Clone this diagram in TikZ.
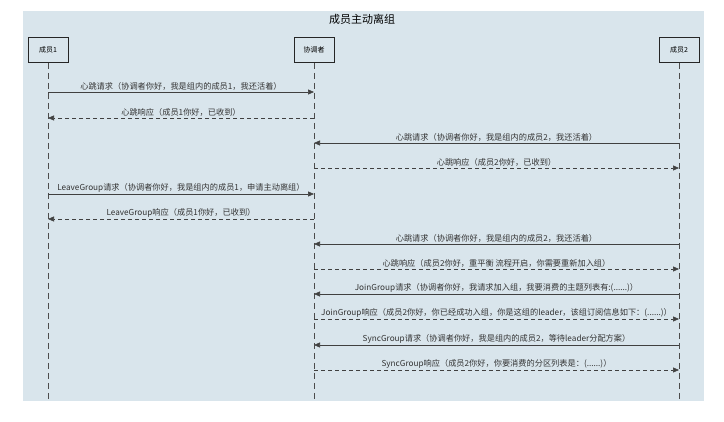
\documentclass[tikz,border=0pt]{standalone}
\usepackage{fontspec}
\setmainfont{Noto Sans CJK SC}
\usetikzlibrary{arrows.meta}
\begin{document}
\begin{tikzpicture}[x=1pt,y=-1pt,
  actor/.style={draw=black!85,line width=1pt,fill=none,minimum width=40pt,minimum height=25pt,font=\fontsize{7}{8}\selectfont},
  life/.style={draw=black!70,dashed,dash pattern=on 6pt off 4pt,line width=0.5pt},
  req/.style={draw=black!75,line width=0.6pt,-{Triangle[length=6pt,width=5pt]}},
  resp/.style={req,dashed,dash pattern=on 4pt off 3pt},
  lbl/.style={font=\fontsize{8.2}{9}\selectfont,text=black!80,inner sep=1pt}]
\useasboundingbox (0,0) rectangle (724,422);
\fill[fill={rgb,255:red,217;green,229;blue,236}] (23,11) rectangle (704,401);
\node[font=\fontsize{11}{13}\selectfont] (title) at (362,19) {成员主动离组};
\node[actor] (a) at (48,50) {成员1};
\node[actor] (c) at (314,50) {协调者};
\node[actor] (b) at (679,50) {成员2};
\coordinate (ae) at (48,401);
\coordinate (ce) at (314,401);
\coordinate (be) at (679,401);
\draw[life] (a.south) -- (ae);
\draw[life] (c.south) -- (ce);
\draw[life] (b.south) -- (be);
\foreach \y/\s/\t/\st/\txt in {
 92/a/c/req/{心跳请求（协调者你好，我是组内的成员1，我还活着）},
 118/c/a/resp/{心跳响应（成员1你好，已收到）},
 143/b/c/req/{心跳请求（协调者你好，我是组内的成员2，我还活着）},
 168/c/b/resp/{心跳响应（成员2你好，已收到）},
 194/a/c/req/{LeaveGroup请求（协调者你好，我是组内的成员1，申请主动离组）},
 219/c/a/resp/{LeaveGroup响应（成员1你好，已收到）},
 244/b/c/req/{心跳请求（协调者你好，我是组内的成员2，我还活着）},
 269/c/b/resp/{心跳响应（成员2你好，重平衡 流程开启，你需要重新加入组）},
 294/b/c/req/{JoinGroup请求（协调者你好，我请求加入组，我要消费的主题列表有:(......)）},
 319/c/b/resp/{JoinGroup响应（成员2你好，你已经成功入组，你是这组的leader，该组订阅信息如下：(......)）},
 345/b/c/req/{SyncGroup请求（协调者你好，我是组内的成员2，等待leader分配方案）},
 370/c/b/resp/{SyncGroup响应（成员2你好，你要消费的分区列表是：(......)）}}
{
  \coordinate (s) at (\s.center |- 0,\y);
  \coordinate (t) at (\t.center |- 0,\y);
  \draw[\st] (s) -- node[lbl,above=0.5pt] {\txt} (t);
}
\end{tikzpicture}
\end{document}
